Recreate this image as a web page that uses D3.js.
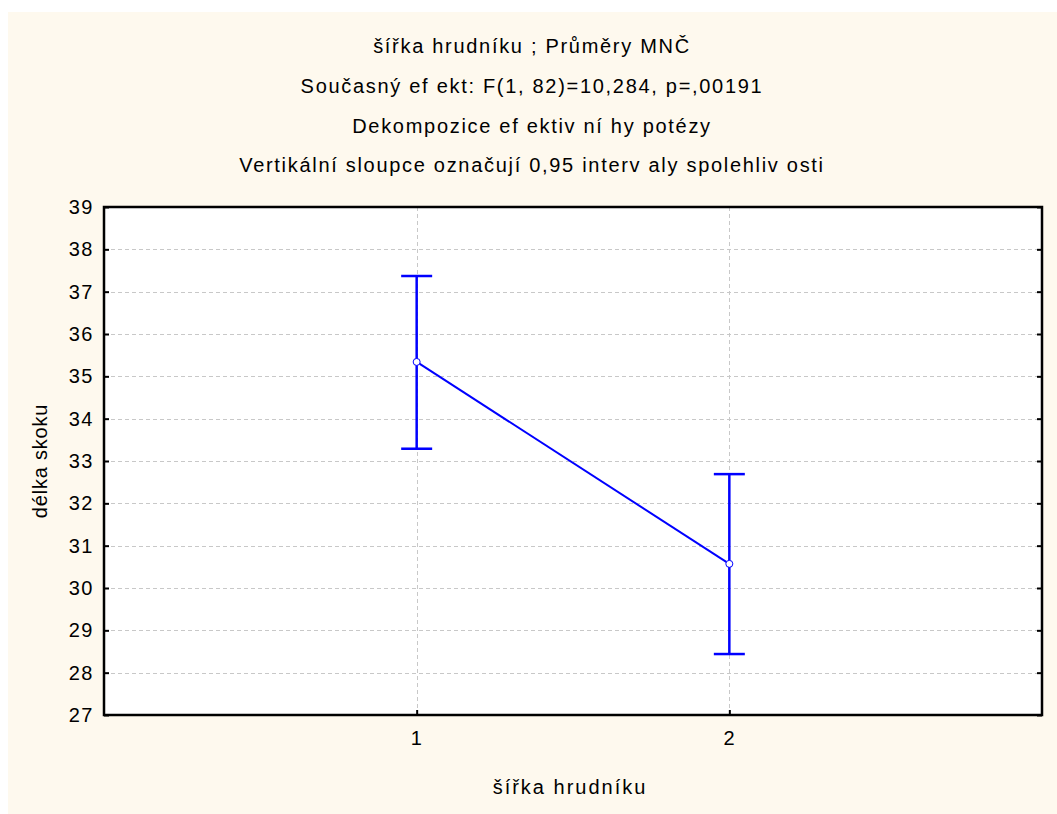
<!DOCTYPE html>
<html><head><meta charset="utf-8">
<script src="https://cdn.jsdelivr.net/npm/d3@7"></script>
<style>
html,body{margin:0;padding:0;background:#fff;}
svg{display:block;}
text{font-family:"Liberation Sans",Arial,sans-serif;fill:#000;}
</style></head>
<body>
<script>
const categories = ["1", "2"];
const means = [35.34, 30.57];
const ciUpper = [37.37, 32.69];
const ciLower = [33.29, 28.44];
const yTicks = [27,28,29,30,31,32,33,34,35,36,37,38,39];
const titles = [
  "šířka hrudníku ; Průměry MNČ",
  "Současný ef ekt: F(1, 82)=10,284, p=,00191",
  "Dekompozice ef ektiv ní hy potézy",
  "Vertikální sloupce označují 0,95 interv aly spolehliv osti"
];
const xLabel = "šířka hrudníku";
const yLabel = "délka skoku";

const W = 1057, H = 814;
const m = {left:104, right:1042, top:207, bottom:715};
const svg = d3.select("body").append("svg").attr("width", W).attr("height", H);
svg.append("rect").attr("x",8).attr("y",12).attr("width",W-8).attr("height",H-12).attr("fill","#fef9ee");
svg.append("rect").attr("x",m.left).attr("y",m.top).attr("width",m.right-m.left).attr("height",m.bottom-m.top).attr("fill","#fff");

const x = d3.scaleLinear().domain([0,3]).range([m.left, m.right]);
const y = d3.scaleLinear().domain([27,39]).range([m.bottom, m.top]);
const xi = i => x(i+1);

// grid
const grid = svg.append("g").attr("stroke","#c8c8c8").attr("stroke-width",1).attr("stroke-dasharray","4,3");
grid.selectAll("line.h").data(yTicks.slice(1,-1)).join("line")
  .attr("x1",m.left).attr("x2",m.right).attr("y1",d=>Math.round(y(d))+0.5).attr("y2",d=>Math.round(y(d))+0.5);
grid.selectAll("line.v").data(categories).join("line")
  .attr("x1",(d,i)=>Math.round(xi(i))+0.5).attr("x2",(d,i)=>Math.round(xi(i))+0.5).attr("y1",m.top).attr("y2",m.bottom);

// axes
const yAxisL = d3.axisLeft(y).tickValues(yTicks).tickSize(-5).tickPadding(10).tickFormat(d3.format("d"));
const gL = svg.append("g").attr("transform",`translate(${m.left},0)`).call(yAxisL);
const yAxisR = d3.axisRight(y).tickValues(yTicks).tickSize(-5).tickFormat("");
const gR = svg.append("g").attr("transform",`translate(${m.right},0)`).call(yAxisR);
const xAxis = d3.axisBottom(x).tickValues([1,2]).tickSize(-5).tickPadding(16).tickFormat((d)=>categories[d-1]);
const gB = svg.append("g").attr("transform",`translate(0,${m.bottom})`).call(xAxis);
[gL,gR,gB].forEach(g=>{
  g.select(".domain").remove();
  g.selectAll(".tick line").attr("stroke","#000").attr("stroke-width",2);
  g.selectAll(".tick text").attr("font-size",20).attr("letter-spacing",1.5).attr("fill","#000")
    .attr("font-family","Liberation Sans, Arial, sans-serif");
});
svg.append("rect").attr("x",m.left).attr("y",m.top).attr("width",m.right-m.left).attr("height",m.bottom-m.top)
  .attr("fill","none").attr("stroke","#000").attr("stroke-width",2.5);

// data line
const pts = means.map((v,i)=>[xi(i), y(v)]);
svg.append("path").attr("d", d3.line()(pts)).attr("fill","none").attr("stroke","#0000ff").attr("stroke-width",2);
const eb = svg.append("g").attr("stroke","#0000ff").attr("stroke-width",2.5);
categories.forEach((c,i)=>{
  const cx = xi(i);
  eb.append("line").attr("x1",cx).attr("x2",cx).attr("y1",y(ciUpper[i])).attr("y2",y(ciLower[i]));
  eb.append("line").attr("x1",cx-15.5).attr("x2",cx+15.5).attr("y1",y(ciUpper[i])).attr("y2",y(ciUpper[i]));
  eb.append("line").attr("x1",cx-15.5).attr("x2",cx+15.5).attr("y1",y(ciLower[i])).attr("y2",y(ciLower[i]));
});
svg.append("g").selectAll("circle").data(means).join("circle")
  .attr("cx",(d,i)=>xi(i)).attr("cy",d=>y(d)).attr("r",3.5)
  .attr("fill","#fff").attr("stroke","#0000ff").attr("stroke-width",1);

// titles
const tY = [53, 93, 133, 172];
svg.append("g").selectAll("text").data(titles).join("text")
  .attr("x",532).attr("y",(d,i)=>tY[i]).attr("text-anchor","middle")
  .attr("font-size",20).attr("letter-spacing",1.7).text(d=>d);
svg.append("text").attr("x",570).attr("y",794).attr("text-anchor","middle")
  .attr("font-size",20).attr("letter-spacing",2).text(xLabel);
svg.append("text").attr("transform",`translate(47,${(m.top+m.bottom)/2}) rotate(-90)`).attr("text-anchor","middle")
  .attr("font-size",20).attr("letter-spacing",0.8).text(yLabel);
</script>
</body></html>
